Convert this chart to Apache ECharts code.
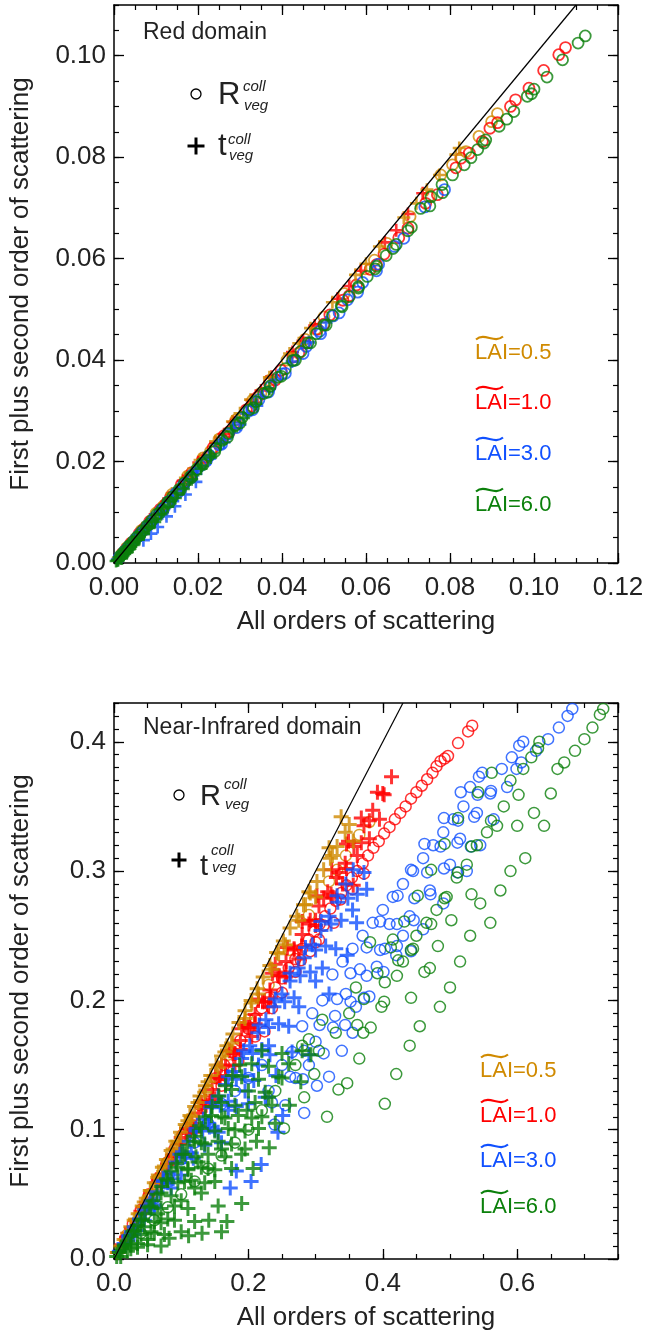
<!DOCTYPE html>
<html><head><meta charset="utf-8">
<script src="https://cdn.jsdelivr.net/npm/echarts@6/dist/echarts.min.js"></script>
<style>html,body{margin:0;padding:0;background:#fff}#c{width:647px;height:1332px}</style>
</head><body><div id="c"></div>
<script>
// ---------- axis settings ----------
const topX = {min: 0, max: 0.12, major: 0.02, minor: 0.005, dec: 2};
const topY = {min: 0, max: 0.11, major: 0.02, minor: 0.005, dec: 2};
const botX = {min: 0, max: 0.75, major: 0.2, minor: 0.05, dec: 1};
const botY = {min: 0, max: 0.43, major: 0.1, minor: 0.01, dec: 1};
const xName = 'All orders of scattering';
const yName = 'First plus second order of scattering';
const lais = ['0.5', '1.0', '3.0', '6.0'];
const laiColors = ['#D08A00', '#FF0000', '#1050FF', '#0B800B'];

// ---------- 1:1 lines ----------
const top_diag = [[0, 0], [0.11, 0.11]];
const bot_diag = [[0, 0], [0.43, 0.43]];

// ---------- Red domain (top) ----------
const top_R_05 = [[0.0030,0.0030],[0.0065,0.0064],[0.0100,0.0098],[0.0138,0.0135],[0.0175,0.0171],[0.0212,0.0207],[0.0250,0.0244],[0.0290,0.0282],[0.0330,0.0321],[0.0370,0.0360],[0.0412,0.0400],[0.0455,0.0441],[0.0500,0.0485],[0.0548,0.0531],[0.0598,0.0580],[0.0650,0.0630],[0.0705,0.0683],[0.0778,0.0765],[0.0806,0.0785],[0.0838,0.0811],[0.0869,0.0841],[0.0899,0.0870],[0.0913,0.0886],[0.0120,0.0114],[0.0230,0.0220],[0.0350,0.0335],[0.0480,0.0461],[0.0620,0.0597],[0.0750,0.0722]];
const top_t_05 = [[0.0010,0.0010],[0.0030,0.0030],[0.0055,0.0055],[0.0080,0.0079],[0.0108,0.0107],[0.0138,0.0137],[0.0170,0.0168],[0.0205,0.0203],[0.0242,0.0240],[0.0282,0.0279],[0.0325,0.0322],[0.0370,0.0366],[0.0418,0.0413],[0.0468,0.0463],[0.0520,0.0514],[0.0575,0.0568],[0.0632,0.0624],[0.0690,0.0681],[0.0720,0.0709],[0.0775,0.0765],[0.0814,0.0805],[0.0822,0.0818],[0.0190,0.0186],[0.0300,0.0295],[0.0440,0.0433],[0.0600,0.0590],[0.0745,0.0736]];
const top_R_10 = [[0.0020,0.0019],[0.0040,0.0039],[0.0060,0.0058],[0.0085,0.0082],[0.0110,0.0106],[0.0135,0.0130],[0.0160,0.0154],[0.0185,0.0178],[0.0210,0.0202],[0.0236,0.0227],[0.0262,0.0251],[0.0288,0.0276],[0.0315,0.0302],[0.0342,0.0327],[0.0370,0.0354],[0.0398,0.0380],[0.0426,0.0406],[0.0455,0.0434],[0.0484,0.0461],[0.0514,0.0489],[0.0545,0.0518],[0.0577,0.0548],[0.0610,0.0579],[0.0643,0.0609],[0.0678,0.0641],[0.0742,0.0709],[0.0814,0.0779],[0.0826,0.0798],[0.0846,0.0808],[0.0877,0.0831],[0.0895,0.0857],[0.0913,0.0868],[0.0944,0.0900],[0.0956,0.0913],[0.0988,0.0936],[0.1023,0.0971],[0.1059,0.1002],[0.1075,0.1016],[0.0030,0.0028],[0.0072,0.0068],[0.0122,0.0115],[0.0172,0.0162],[0.0222,0.0209],[0.0275,0.0259],[0.0328,0.0309],[0.0384,0.0361],[0.0440,0.0414],[0.0500,0.0471],[0.0560,0.0527],[0.0625,0.0588],[0.0700,0.0660],[0.0770,0.0726]];
const top_t_10 = [[0.0015,0.0015],[0.0040,0.0039],[0.0068,0.0067],[0.0098,0.0096],[0.0130,0.0127],[0.0165,0.0162],[0.0202,0.0198],[0.0242,0.0237],[0.0284,0.0278],[0.0328,0.0321],[0.0375,0.0367],[0.0425,0.0416],[0.0478,0.0468],[0.0532,0.0521],[0.0588,0.0576],[0.0645,0.0632],[0.0700,0.0688],[0.0735,0.0729],[0.0055,0.0052],[0.0115,0.0110],[0.0182,0.0176],[0.0262,0.0254],[0.0350,0.0340],[0.0450,0.0438],[0.0560,0.0546],[0.0672,0.0656]];
const top_R_30 = [[0.0012,0.0011],[0.0024,0.0022],[0.0036,0.0033],[0.0050,0.0046],[0.0064,0.0059],[0.0080,0.0074],[0.0096,0.0089],[0.0112,0.0104],[0.0130,0.0121],[0.0148,0.0138],[0.0166,0.0155],[0.0186,0.0173],[0.0206,0.0192],[0.0228,0.0212],[0.0250,0.0233],[0.0272,0.0254],[0.0296,0.0276],[0.0320,0.0299],[0.0345,0.0322],[0.0372,0.0347],[0.0400,0.0373],[0.0428,0.0399],[0.0458,0.0427],[0.0490,0.0457],[0.0522,0.0487],[0.0556,0.0519],[0.0592,0.0553],[0.0630,0.0589],[0.0668,0.0624],[0.0740,0.0702],[0.0787,0.0736],[0.0030,0.0027],[0.0058,0.0053],[0.0088,0.0080],[0.0120,0.0109],[0.0152,0.0139],[0.0185,0.0169],[0.0220,0.0201],[0.0256,0.0234],[0.0292,0.0267],[0.0330,0.0302],[0.0368,0.0337],[0.0408,0.0374],[0.0450,0.0413],[0.0492,0.0452],[0.0536,0.0493],[0.0580,0.0534],[0.0625,0.0576],[0.0690,0.0640]];
const top_t_30 = [[0.0008,0.0007],[0.0022,0.0020],[0.0038,0.0035],[0.0055,0.0051],[0.0072,0.0067],[0.0090,0.0084],[0.0110,0.0102],[0.0130,0.0121],[0.0115,0.0098],[0.0140,0.0122],[0.0152,0.0141],[0.0176,0.0164],[0.0200,0.0187],[0.0226,0.0211],[0.0254,0.0237],[0.0284,0.0265],[0.0316,0.0295],[0.0350,0.0327],[0.0386,0.0361],[0.0424,0.0397],[0.0464,0.0435],[0.0505,0.0474],[0.0025,0.0021],[0.0045,0.0039],[0.0065,0.0057],[0.0088,0.0078],[0.0112,0.0100],[0.0138,0.0124],[0.0165,0.0149],[0.0195,0.0176],[0.0228,0.0206],[0.0262,0.0238],[0.0300,0.0273],[0.0340,0.0310],[0.0104,0.0071],[0.0125,0.0092],[0.0145,0.0112],[0.0170,0.0135],[0.0195,0.0160],[0.0088,0.0058],[0.0070,0.0045]];
const top_R_60 = [[0.0015,0.0014],[0.0025,0.0023],[0.0035,0.0033],[0.0045,0.0042],[0.0055,0.0051],[0.0068,0.0064],[0.0078,0.0073],[0.0090,0.0084],[0.0102,0.0096],[0.0115,0.0107],[0.0128,0.0120],[0.0140,0.0131],[0.0155,0.0145],[0.0168,0.0158],[0.0182,0.0170],[0.0197,0.0185],[0.0210,0.0197],[0.0226,0.0212],[0.0241,0.0226],[0.0258,0.0242],[0.0272,0.0256],[0.0290,0.0272],[0.0305,0.0287],[0.0322,0.0302],[0.0338,0.0318],[0.0356,0.0334],[0.0372,0.0349],[0.0390,0.0366],[0.0408,0.0383],[0.0425,0.0399],[0.0445,0.0417],[0.0462,0.0434],[0.0482,0.0452],[0.0500,0.0469],[0.0520,0.0488],[0.0541,0.0507],[0.0560,0.0525],[0.0582,0.0545],[0.0603,0.0565],[0.0625,0.0585],[0.0648,0.0606],[0.0672,0.0628],[0.0700,0.0655],[0.0730,0.0699],[0.0755,0.0722],[0.0782,0.0730],[0.0781,0.0746],[0.0806,0.0765],[0.0834,0.0785],[0.0850,0.0799],[0.0866,0.0815],[0.0881,0.0828],[0.0885,0.0834],[0.0917,0.0861],[0.0935,0.0875],[0.0952,0.0890],[0.0984,0.0920],[0.0994,0.0925],[0.1000,0.0934],[0.1031,0.0958],[0.1068,0.0992],[0.1105,0.1025],[0.1122,0.1039],[0.0020,0.0018],[0.0040,0.0036],[0.0062,0.0056],[0.0085,0.0077],[0.0108,0.0098],[0.0132,0.0120],[0.0158,0.0144],[0.0184,0.0168],[0.0212,0.0194],[0.0240,0.0220],[0.0270,0.0248],[0.0300,0.0276],[0.0332,0.0306],[0.0365,0.0337],[0.0398,0.0368],[0.0432,0.0400],[0.0468,0.0434],[0.0505,0.0469],[0.0543,0.0505],[0.0582,0.0542],[0.0622,0.0580],[0.0664,0.0620],[0.0708,0.0662],[0.0752,0.0704]];
const top_t_60 = [[0.0005,0.0004],[0.0012,0.0011],[0.0020,0.0018],[0.0028,0.0026],[0.0036,0.0033],[0.0045,0.0041],[0.0055,0.0050],[0.0066,0.0060],[0.0078,0.0071],[0.0090,0.0082],[0.0104,0.0095],[0.0118,0.0108],[0.0134,0.0123],[0.0150,0.0138],[0.0168,0.0155],[0.0188,0.0173],[0.0208,0.0192],[0.0230,0.0213],[0.0254,0.0235],[0.0280,0.0260],[0.0308,0.0286],[0.0338,0.0314],[0.0370,0.0344],[0.0010,0.0006],[0.0025,0.0019],[0.0040,0.0032],[0.0060,0.0051],[0.0018,0.0009],[0.0032,0.0022],[0.0008,0.0005],[0.0015,0.0010],[0.0022,0.0015],[0.0030,0.0021],[0.0038,0.0028],[0.0048,0.0037],[0.0058,0.0046],[0.0070,0.0057],[0.0083,0.0069],[0.0097,0.0081],[0.0112,0.0096],[0.0128,0.0111],[0.0146,0.0128],[0.0165,0.0146],[0.0185,0.0165],[0.0207,0.0186],[0.0230,0.0208]];

// ---------- Near-Infrared domain (bottom) ----------
const bot_R_05 = [[0.020,0.019],[0.050,0.047],[0.080,0.075],[0.110,0.103],[0.140,0.131],[0.170,0.158],[0.200,0.185],[0.230,0.212],[0.260,0.239],[0.290,0.266],[0.320,0.292],[0.332,0.301],[0.345,0.312],[0.365,0.328],[0.380,0.338]];
const bot_t_05 = [[0.005,0.005],[0.010,0.010],[0.015,0.015],[0.020,0.020],[0.025,0.025],[0.030,0.030],[0.036,0.035],[0.042,0.041],[0.048,0.047],[0.054,0.053],[0.060,0.059],[0.066,0.065],[0.072,0.071],[0.078,0.077],[0.085,0.084],[0.092,0.091],[0.099,0.098],[0.106,0.104],[0.113,0.111],[0.120,0.118],[0.128,0.126],[0.136,0.134],[0.144,0.142],[0.152,0.150],[0.160,0.157],[0.168,0.165],[0.177,0.174],[0.186,0.183],[0.195,0.192],[0.204,0.200],[0.213,0.209],[0.222,0.218],[0.232,0.227],[0.242,0.237],[0.252,0.246],[0.262,0.256],[0.272,0.265],[0.282,0.274],[0.292,0.283],[0.302,0.292],[0.312,0.301],[0.322,0.310],[0.332,0.319],[0.344,0.330],[0.356,0.323],[0.338,0.342],[0.350,0.336],[0.320,0.318],[0.300,0.280],[0.290,0.284],[0.055,0.053],[0.075,0.072],[0.095,0.091],[0.115,0.110],[0.135,0.129],[0.155,0.148],[0.175,0.167],[0.195,0.186],[0.215,0.205],[0.235,0.224],[0.255,0.243],[0.275,0.262],[0.110,0.107],[0.140,0.137],[0.032,0.031],[0.045,0.044],[0.065,0.063],[0.088,0.085],[0.125,0.121],[0.165,0.160],[0.205,0.198],[0.245,0.236],[0.285,0.274],[0.325,0.312]];
const bot_R_10 = [[0.533,0.4125],[0.527,0.408],[0.512,0.399],[0.497,0.389],[0.492,0.387],[0.486,0.385],[0.480,0.381],[0.474,0.376],[0.466,0.371],[0.458,0.366],[0.450,0.361],[0.442,0.356],[0.434,0.350],[0.426,0.345],[0.418,0.340],[0.410,0.334],[0.402,0.329],[0.394,0.323],[0.386,0.318],[0.378,0.312],[0.370,0.306],[0.362,0.300],[0.354,0.295],[0.346,0.289],[0.338,0.283],[0.330,0.277],[0.322,0.271],[0.314,0.265],[0.306,0.259],[0.298,0.253],[0.290,0.247],[0.280,0.240],[0.270,0.232],[0.260,0.225],[0.250,0.217],[0.240,0.210],[0.230,0.202],[0.220,0.194],[0.210,0.186],[0.200,0.178],[0.188,0.169],[0.176,0.160],[0.164,0.150],[0.152,0.140],[0.140,0.130],[0.128,0.119],[0.115,0.108],[0.102,0.096],[0.090,0.085],[0.078,0.074],[0.065,0.062],[0.052,0.050],[0.040,0.038],[0.028,0.027],[0.016,0.015],[0.337,0.278],[0.327,0.260],[0.305,0.247],[0.224,0.176],[0.278,0.231],[0.250,0.206],[0.270,0.222],[0.292,0.238],[0.312,0.258],[0.300,0.245],[0.235,0.194],[0.210,0.172],[0.185,0.153],[0.160,0.134],[0.355,0.286],[0.372,0.298]];
const bot_t_10 = [[0.006,0.005],[0.012,0.011],[0.019,0.017],[0.026,0.024],[0.033,0.030],[0.040,0.037],[0.048,0.044],[0.056,0.051],[0.064,0.059],[0.072,0.066],[0.080,0.073],[0.089,0.081],[0.098,0.089],[0.107,0.097],[0.116,0.105],[0.126,0.113],[0.136,0.122],[0.146,0.131],[0.156,0.140],[0.166,0.149],[0.177,0.159],[0.188,0.169],[0.199,0.179],[0.210,0.189],[0.221,0.199],[0.232,0.208],[0.244,0.219],[0.256,0.230],[0.268,0.240],[0.280,0.251],[0.292,0.262],[0.305,0.273],[0.318,0.284],[0.331,0.295],[0.344,0.306],[0.356,0.289],[0.349,0.323],[0.372,0.335],[0.385,0.347],[0.400,0.360],[0.413,0.373],[0.380,0.325],[0.362,0.312],[0.120,0.098],[0.150,0.124],[0.180,0.150],[0.205,0.172],[0.230,0.195],[0.255,0.218],[0.240,0.228],[0.215,0.200],[0.190,0.178],[0.160,0.150],[0.131,0.118],[0.100,0.094],[0.275,0.232],[0.300,0.258],[0.325,0.280],[0.340,0.290],[0.395,0.340],[0.022,0.020],[0.024,0.019],[0.044,0.040],[0.047,0.039],[0.066,0.061],[0.070,0.059],[0.087,0.080],[0.092,0.079],[0.108,0.101],[0.114,0.099],[0.120,0.102],[0.130,0.121],[0.137,0.119],[0.143,0.122],[0.151,0.141],[0.158,0.139],[0.166,0.142],[0.172,0.161],[0.180,0.159],[0.188,0.162],[0.194,0.181],[0.202,0.179],[0.210,0.182],[0.215,0.201],[0.224,0.199],[0.233,0.202],[0.236,0.221],[0.246,0.219],[0.256,0.222],[0.258,0.241],[0.268,0.239],[0.279,0.242],[0.280,0.261],[0.290,0.259],[0.300,0.262],[0.302,0.281],[0.312,0.279],[0.323,0.282],[0.324,0.301],[0.335,0.299],[0.346,0.302],[0.346,0.321],[0.357,0.319],[0.368,0.322],[0.368,0.341],[0.380,0.339],[0.392,0.361],[0.402,0.359]];
const bot_R_30 = [[0.682,0.4254],[0.675,0.420],[0.662,0.411],[0.646,0.402],[0.628,0.393],[0.609,0.400],[0.603,0.397],[0.592,0.388],[0.606,0.384],[0.599,0.379],[0.577,0.379],[0.548,0.376],[0.543,0.373],[0.530,0.365],[0.560,0.360],[0.585,0.365],[0.520,0.350],[0.540,0.345],[0.565,0.340],[0.505,0.340],[0.490,0.330],[0.515,0.325],[0.545,0.320],[0.475,0.320],[0.460,0.310],[0.500,0.305],[0.525,0.300],[0.445,0.300],[0.430,0.290],[0.470,0.285],[0.490,0.275],[0.415,0.280],[0.400,0.270],[0.440,0.265],[0.460,0.255],[0.391,0.226],[0.403,0.240],[0.410,0.259],[0.380,0.203],[0.366,0.224],[0.385,0.260],[0.370,0.250],[0.355,0.240],[0.340,0.230],[0.325,0.220],[0.345,0.205],[0.339,0.161],[0.344,0.181],[0.329,0.188],[0.320,0.141],[0.302,0.134],[0.283,0.113],[0.239,0.104],[0.300,0.168],[0.310,0.200],[0.295,0.190],[0.280,0.180],[0.265,0.160],[0.250,0.150],[0.270,0.140],[0.420,0.235],[0.430,0.250],[0.360,0.195],[0.355,0.175],[0.290,0.150],[0.230,0.130],[0.220,0.150],[0.200,0.140],[0.180,0.130],[0.160,0.120],[0.140,0.105],[0.120,0.090],[0.100,0.077],[0.080,0.062],[0.060,0.047],[0.040,0.032],[0.020,0.016],[0.235,0.121],[0.255,0.119],[0.262,0.141],[0.281,0.139],[0.283,0.161],[0.312,0.159],[0.306,0.181],[0.326,0.179],[0.332,0.201],[0.352,0.199],[0.372,0.202],[0.352,0.221],[0.376,0.219],[0.401,0.222],[0.376,0.241],[0.396,0.239],[0.421,0.242],[0.442,0.238],[0.396,0.261],[0.421,0.259],[0.446,0.262],[0.422,0.281],[0.447,0.279],[0.471,0.282],[0.442,0.301],[0.466,0.299],[0.491,0.302],[0.511,0.299],[0.462,0.321],[0.486,0.319],[0.511,0.322],[0.531,0.319],[0.491,0.341],[0.512,0.339],[0.536,0.342],[0.516,0.361],[0.541,0.359],[0.561,0.362]];
const bot_t_30 = [[0.008,0.006],[0.015,0.012],[0.022,0.018],[0.030,0.025],[0.038,0.031],[0.046,0.038],[0.055,0.045],[0.064,0.052],[0.073,0.060],[0.082,0.067],[0.092,0.075],[0.102,0.083],[0.112,0.091],[0.122,0.099],[0.133,0.108],[0.144,0.117],[0.155,0.126],[0.166,0.135],[0.178,0.145],[0.190,0.155],[0.202,0.165],[0.214,0.175],[0.226,0.185],[0.238,0.195],[0.250,0.205],[0.262,0.215],[0.274,0.225],[0.283,0.233],[0.295,0.243],[0.308,0.254],[0.320,0.265],[0.333,0.276],[0.347,0.235],[0.320,0.205],[0.290,0.158],[0.241,0.142],[0.251,0.111],[0.244,0.098],[0.219,0.073],[0.204,0.060],[0.182,0.068],[0.173,0.055],[0.150,0.100],[0.170,0.115],[0.195,0.130],[0.215,0.150],[0.230,0.165],[0.260,0.180],[0.275,0.195],[0.300,0.215],[0.135,0.088],[0.118,0.078],[0.100,0.065],[0.085,0.055],[0.160,0.090],[0.200,0.120],[0.225,0.125],[0.345,0.290],[0.376,0.286],[0.361,0.260],[0.355,0.270],[0.330,0.240],[0.310,0.225],[0.265,0.160],[0.140,0.105],[0.060,0.040],[0.045,0.030],[0.026,0.021],[0.030,0.019],[0.034,0.022],[0.050,0.041],[0.055,0.039],[0.060,0.042],[0.074,0.061],[0.080,0.059],[0.088,0.062],[0.098,0.081],[0.106,0.079],[0.115,0.082],[0.122,0.101],[0.132,0.099],[0.142,0.102],[0.155,0.098],[0.146,0.121],[0.158,0.119],[0.170,0.122],[0.182,0.118],[0.170,0.141],[0.182,0.139],[0.195,0.142],[0.208,0.138],[0.193,0.161],[0.206,0.159],[0.220,0.162],[0.232,0.158],[0.216,0.181],[0.230,0.179],[0.245,0.182],[0.240,0.201],[0.254,0.199],[0.268,0.202],[0.262,0.221],[0.277,0.219],[0.292,0.222],[0.285,0.241],[0.300,0.239],[0.315,0.242],[0.308,0.261],[0.323,0.259],[0.338,0.262],[0.332,0.281],[0.348,0.279],[0.362,0.282],[0.356,0.301],[0.372,0.299]];
const bot_R_60 = [[0.728,0.4254],[0.723,0.421],[0.712,0.411],[0.700,0.402],[0.686,0.393],[0.670,0.384],[0.660,0.379],[0.633,0.400],[0.631,0.395],[0.621,0.388],[0.609,0.379],[0.590,0.370],[0.562,0.376],[0.650,0.360],[0.640,0.335],[0.625,0.345],[0.600,0.335],[0.612,0.310],[0.580,0.350],[0.570,0.335],[0.590,0.300],[0.575,0.285],[0.555,0.330],[0.540,0.320],[0.560,0.260],[0.545,0.275],[0.530,0.250],[0.525,0.305],[0.510,0.295],[0.515,0.230],[0.500,0.210],[0.495,0.280],[0.480,0.270],[0.485,0.195],[0.470,0.225],[0.465,0.260],[0.450,0.250],[0.455,0.180],[0.440,0.165],[0.445,0.240],[0.430,0.230],[0.423,0.231],[0.415,0.247],[0.403,0.214],[0.398,0.195],[0.381,0.245],[0.371,0.175],[0.365,0.155],[0.347,0.136],[0.334,0.131],[0.317,0.110],[0.305,0.161],[0.280,0.165],[0.298,0.143],[0.283,0.125],[0.253,0.101],[0.420,0.143],[0.403,0.120],[0.360,0.210],[0.350,0.190],[0.330,0.175],[0.310,0.185],[0.290,0.170],[0.270,0.150],[0.240,0.130],[0.220,0.115],[0.200,0.100],[0.180,0.090],[0.160,0.080],[0.140,0.070],[0.120,0.060],[0.100,0.050],[0.080,0.040],[0.060,0.030],[0.040,0.020],[0.362,0.181],[0.382,0.179],[0.372,0.201],[0.402,0.199],[0.442,0.202],[0.392,0.221],[0.421,0.219],[0.462,0.222],[0.412,0.241],[0.442,0.239],[0.482,0.242],[0.432,0.261],[0.472,0.259],[0.502,0.262],[0.452,0.281],[0.492,0.279],[0.532,0.282],[0.472,0.301],[0.512,0.299],[0.492,0.321],[0.532,0.319],[0.512,0.341],[0.561,0.339],[0.542,0.361],[0.602,0.359]];
const bot_t_60 = [[0.004,0.002],[0.008,0.005],[0.012,0.008],[0.016,0.011],[0.020,0.014],[0.025,0.018],[0.030,0.022],[0.035,0.026],[0.040,0.030],[0.046,0.035],[0.052,0.040],[0.058,0.045],[0.064,0.050],[0.071,0.056],[0.078,0.062],[0.085,0.068],[0.093,0.074],[0.101,0.081],[0.109,0.088],[0.118,0.095],[0.127,0.103],[0.136,0.110],[0.146,0.118],[0.156,0.126],[0.166,0.134],[0.176,0.142],[0.187,0.150],[0.198,0.115],[0.212,0.091],[0.231,0.086],[0.207,0.070],[0.190,0.043],[0.168,0.029],[0.155,0.041],[0.141,0.030],[0.160,0.021],[0.131,0.020],[0.111,0.018],[0.082,0.016],[0.278,0.137],[0.293,0.158],[0.261,0.119],[0.240,0.105],[0.220,0.110],[0.180,0.100],[0.160,0.085],[0.140,0.070],[0.120,0.055],[0.100,0.045],[0.090,0.030],[0.070,0.028],[0.060,0.020],[0.050,0.015],[0.035,0.012],[0.025,0.008],[0.045,0.025],[0.065,0.035],[0.105,0.060],[0.125,0.075],[0.150,0.060],[0.175,0.070],[0.195,0.085],[0.020,0.006],[0.010,0.002],[0.200,0.130],[0.230,0.125],[0.250,0.140],[0.160,0.110],[0.130,0.090],[0.110,0.070],[0.015,0.010],[0.025,0.011],[0.035,0.009],[0.050,0.011],[0.070,0.010],[0.028,0.021],[0.040,0.019],[0.055,0.021],[0.075,0.019],[0.100,0.021],[0.042,0.031],[0.060,0.029],[0.080,0.031],[0.120,0.029],[0.055,0.041],[0.070,0.039],[0.090,0.041],[0.110,0.039],[0.070,0.051],[0.085,0.049],[0.130,0.051],[0.080,0.061],[0.095,0.059],[0.115,0.061],[0.135,0.059],[0.095,0.071],[0.110,0.069],[0.130,0.071],[0.150,0.069],[0.105,0.081],[0.122,0.079],[0.140,0.081],[0.165,0.079],[0.190,0.081],[0.120,0.091],[0.135,0.089],[0.155,0.091],[0.175,0.089],[0.130,0.101],[0.150,0.099],[0.170,0.101],[0.195,0.099],[0.215,0.101],[0.145,0.111],[0.165,0.109],[0.185,0.111],[0.205,0.109],[0.160,0.121],[0.180,0.119],[0.210,0.121],[0.235,0.119],[0.175,0.131],[0.225,0.129],[0.190,0.141],[0.215,0.139],[0.245,0.141],[0.205,0.151],[0.230,0.149],[0.260,0.151],[0.220,0.161],[0.250,0.159],[0.280,0.161]];

const topR = [top_R_05, top_R_10, top_R_30, top_R_60];
const topT = [top_t_05, top_t_10, top_t_30, top_t_60];
const botR = [bot_R_05, bot_R_10, bot_R_30, bot_R_60];
const botT = [bot_t_05, bot_t_10, bot_t_30, bot_t_60];

// ---------- build ----------
const FONT = "'Liberation Sans', Arial, Helvetica, sans-serif";
const TXT = '#222';
const PLUS = 'path://M4,0H6V4H10V6H6V10H4V6H0V4H4Z';

function axesFor(dim, g, s, name) {
  const isX = dim === 'x';
  const common = {gridIndex: g, type: 'value', min: s.min, max: s.max, splitLine: {show: false}, axisPointer: {show: false}};
  const line = {show: true, onZero: false, lineStyle: {color: '#000', width: 1.5}};
  const noLine = {show: false, onZero: false};
  const sides = isX ? ['bottom', 'top'] : ['left', 'right'];
  const out = [];
  sides.forEach((pos, k) => {
    out.push(Object.assign({}, common, {
      position: pos, interval: s.major, axisLine: line,
      axisTick: {show: true, inside: true, length: 10, lineStyle: {color: '#000', width: 1.3}},
      axisLabel: k === 0 ? {
        show: true, fontFamily: FONT, fontSize: 26, color: TXT, margin: isX ? 12 : 8,
        showMaxLabel: Math.abs(s.max / s.major - Math.round(s.max / s.major)) < 1e-6,
        formatter: v => Number(v).toFixed(s.dec)
      } : {show: false},
      name: k === 0 ? name : '', nameLocation: 'middle', nameGap: isX ? 46 : 80,
      nameTextStyle: {fontFamily: FONT, fontSize: 26, color: TXT}
    }));
    out.push(Object.assign({}, common, {
      position: pos, interval: s.minor, axisLine: noLine,
      axisTick: {show: true, inside: true, length: 5, lineStyle: {color: '#000', width: 1.2}},
      axisLabel: {show: false}
    }));
  });
  return out;
}

const xAxes = axesFor('x', 0, topX, xName).concat(axesFor('x', 1, botX, xName));
const yAxes = axesFor('y', 0, topY, yName).concat(axesFor('y', 1, botY, yName));

// drawing order: [kind, laiIndex]
const drawOrder = [['R', 0], ['R', 1], ['t', 1], ['t', 0], ['R', 2], ['t', 2], ['R', 3], ['t', 3]];
const series = [];
function addPlot(g, R, T, diag, circSize, circW, plusSize) {
  const xi = g * 4, yi = g * 4;
  drawOrder.forEach(([kind, i]) => {
    if (kind === 'R') {
      series.push({type: 'scatter', xAxisIndex: xi, yAxisIndex: yi, data: R[i], symbol: 'circle', symbolSize: circSize,
        itemStyle: {color: 'rgba(0,0,0,0)', borderColor: laiColors[i], borderWidth: circW}, silent: true, animation: false});
    } else {
      series.push({type: 'scatter', xAxisIndex: xi, yAxisIndex: yi, data: T[i], symbol: PLUS, symbolSize: plusSize,
        itemStyle: {color: laiColors[i], borderWidth: 0}, silent: true, animation: false});
    }
  });
  series.push({type: 'line', xAxisIndex: xi, yAxisIndex: yi, data: diag, symbol: 'none', silent: true, animation: false,
    lineStyle: {color: '#000', width: 1.2}, z: 3});
}
addPlot(0, topR, topT, top_diag, 11, 1.8, 13);
addPlot(1, botR, botT, bot_diag, 11, 1.5, 15);

// ---------- annotations ----------
const graphic = [];
function txt(x, y, text, size, color, italic) {
  graphic.push({type: 'text', x: x, y: y, silent: true,
    style: {text: text, font: (italic ? 'italic ' : '') + size + 'px ' + FONT, fill: color, align: 'left', verticalAlign: 'middle'}});
}
function tilde(x, y, color) {
  graphic.push({type: 'bezierCurve', silent: true,
    shape: {x1: x, y1: y + 1.5, cpx1: x + 9, cpy1: y - 6, cpx2: x + 18, cpy2: y + 6, x2: x + 27, y2: y - 1.5},
    style: {stroke: color, lineWidth: 2.2, fill: null}});
}
function legendBlock(o) {
  txt(143, o.titleY, o.title, 23, TXT);
  graphic.push({type: 'circle', silent: true, shape: {cx: o.cx, cy: o.cy1, r: 5}, style: {fill: 'none', stroke: '#000', lineWidth: 1.3}});
  graphic.push({type: 'rect', silent: true, shape: {x: o.cx - o.ps / 2, y: o.cy2 - 1.5, width: o.ps, height: 3}, style: {fill: '#000'}});
  graphic.push({type: 'rect', silent: true, shape: {x: o.cx - 1.5, y: o.cy2 - o.ps / 2, width: 3, height: o.ps}, style: {fill: '#000'}});
  txt(o.lx, o.Ry, 'R', o.big, TXT);
  txt(o.Rsx, o.Rsup, 'coll', 15, TXT, true);
  txt(o.Rsx + 1, o.Rsub, 'veg', 15, TXT, true);
  txt(o.lx, o.ty, 't', o.big, TXT);
  txt(o.tsx, o.tsup, 'coll', 15, TXT, true);
  txt(o.tsx + 1, o.tsub, 'veg', 15, TXT, true);
  for (let i = 0; i < 4; i++) {
    const b = o.laiY[i];
    txt(o.laiX, b - 8, 'LAI=' + lais[i], 22, laiColors[i]);
    tilde(o.laiX + 1, b - 23, laiColors[i]);
  }
}
legendBlock({title: 'Red domain', titleY: 33, cx: 196, cy1: 94, cy2: 146, ps: 17, big: 31,
  lx: 218, Ry: 95, Rsx: 243, Rsup: 87, Rsub: 106, ty: 146, tsx: 228, tsup: 140, tsub: 156,
  laiX: 475, laiY: [361, 411, 462, 513]});
legendBlock({title: 'Near-Infrared domain', titleY: 728, cx: 179, cy1: 795, cy2: 860, ps: 15, big: 29,
  lx: 200, Ry: 797, Rsx: 224, Rsup: 785, Rsub: 805, ty: 867, tsx: 211, tsup: 851, tsub: 868,
  laiX: 480, laiY: [1079, 1124, 1169, 1215]});

const chart = echarts.init(document.getElementById('c'), null, {renderer: 'canvas', width: 647, height: 1332});
chart.setOption({
  backgroundColor: '#fff',
  animation: false,
  grid: [
    {left: 111, top: 5, width: 507, height: 558, containLabel: false},
    {left: 111, top: 703, width: 507, height: 558, containLabel: false}
  ],
  xAxis: xAxes,
  yAxis: yAxes,
  series: series,
  graphic: graphic
});
</script></body></html>
